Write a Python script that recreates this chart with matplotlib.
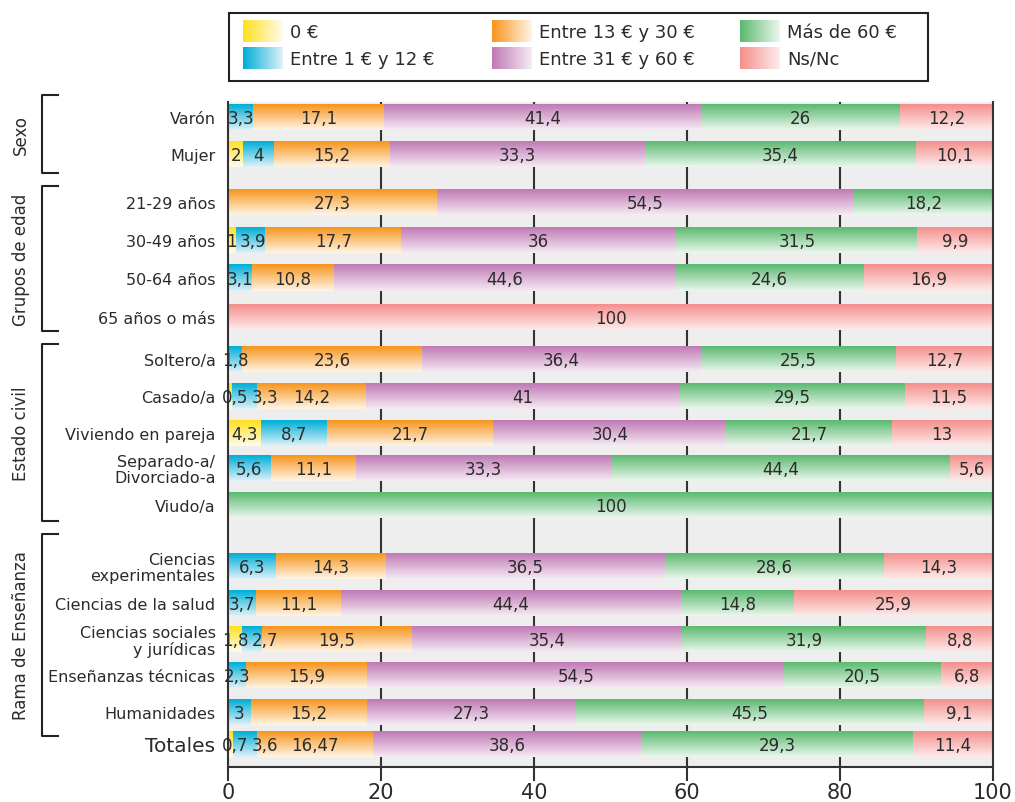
import numpy as np
import matplotlib
matplotlib.use("Agg")
import matplotlib.pyplot as plt
from matplotlib.colors import LinearSegmentedColormap

# datos (%), tal como se ven en el gráfico
categorias = ["Varón", "Mujer",
              "21-29 años", "30-49 años", "50-64 años", "65 años o más",
              "Soltero/a", "Casado/a", "Viviendo en pareja",
              "Separado-a/\nDivorciado-a", "Viudo/a",
              "Ciencias\nexperimentales", "Ciencias de la salud",
              "Ciencias sociales\ny jurídicas", "Enseñanzas técnicas",
              "Humanidades", "Totales"]

series = ["0 €", "Entre 1 € y 12 €", "Entre 13 € y 30 €",
          "Entre 31 € y 60 €", "Más de 60 €", "Ns/Nc"]

cero     = [0, 2, 0, 1, 0, 0, 0, 0.5, 4.3, 0, 0, 0, 0, 1.8, 0, 0, 0.7]
e1_12    = [3.3, 4, 0, 3.9, 3.1, 0, 1.8, 3.3, 8.7, 5.6, 0, 6.3, 3.7, 2.7, 2.3, 3, 3.1]
e13_30   = [17.1, 15.2, 27.3, 17.7, 10.8, 0, 23.6, 14.2, 21.7, 11.1, 0, 14.3, 11.1, 19.5, 15.9, 15.2, 15.2]
e31_60   = [41.4, 33.3, 54.5, 36, 44.6, 0, 36.4, 41, 30.4, 33.3, 0, 36.5, 44.4, 35.4, 54.5, 27.3, 35.0]
mas60    = [26, 35.4, 18.2, 31.5, 24.6, 0, 25.5, 29.5, 21.7, 44.4, 100, 28.6, 14.8, 31.9, 20.5, 45.5, 35.5]
nsnc     = [12.2, 10.1, 0, 9.9, 16.9, 100, 12.7, 11.5, 13, 5.6, 0, 14.3, 25.9, 8.8, 6.8, 9.1, 10.5]

# la fila de totales lleva rótulos distintos de lo dibujado
totales_rotulos = ["0,7", "3,6", "16,47", "38,6", "29,3", "11,4"]

grupos = ["Sexo", "Grupos de edad", "Estado civil", "Rama de Enseñanza"]

# colores: (saturado, claro)
colores = [("#FFE11F", "#FFFBEA"),
           ("#00AFD8", "#DDF1F8"),
           ("#F7961E", "#FFF4E4"),
           ("#C07AB5", "#F5EAF3"),
           ("#5CBA70", "#EAF6EC"),
           ("#F4908D", "#FDEBEA")]

# layout (coordenadas en píxeles de la imagen)
W, H = 1015, 803
centros = [118, 155, 203, 241, 279, 318, 360, 397, 434, 469, 506,
           567, 604, 640, 676, 713, 745]
alto = 26
corchetes = [(96, 174), (187, 332), (345, 522), (535, 737)]

plt.rcParams['font.family'] = ['DejaVu Sans']
texto = "#2b2b2b"

fig = plt.figure(figsize=(W / 100, H / 100), dpi=100)
ax = fig.add_axes([228 / W, (H - 768) / H, 765 / W, (768 - 103) / H])
ax.set_facecolor("#EEEEEE")

cmaps = [LinearSegmentedColormap.from_list("c%d" % i, [c0, c1]) for i, (c0, c1) in enumerate(colores)]
grad_v = np.linspace(0, 1, 40).reshape(-1, 1)

datos = [cero, e1_12, e13_30, e31_60, mas60, nsnc]


def fmt(v):
    if float(v).is_integer():
        return str(int(v))
    return str(v).replace(".", ",")


px_por_unidad = 765 / 100
for i, yc in enumerate(centros):
    izq = 0
    etiquetas = []
    for k, serie in enumerate(datos):
        v = serie[i]
        if v <= 0:
            continue
        ax.imshow(grad_v, cmap=cmaps[k], aspect="auto", interpolation="bilinear",
                  extent=(izq, izq + v, yc + alto / 2, yc - alto / 2), zorder=2)
        t = totales_rotulos[k] if i == len(centros) - 1 else fmt(v)
        etiquetas.append((izq + v / 2, t))
        izq += v
    # evitar solapes de etiquetas pequeñas
    prev_der = -1e9
    for cx, t in etiquetas:
        ancho = (sum(5.3 if ch == "," else 10.6 for ch in t)) / px_por_unidad
        x = max(cx, prev_der + ancho / 2 + 0.4, ancho / 2 - 0.8)
        prev_der = x + ancho / 2
        ax.text(x, yc + 1, t, ha="center", va="center", fontsize=12,
                color=texto, zorder=3)

ax.set_xlim(0, 100)
ax.set_ylim(768, 103)
ax.set_xticks([0, 20, 40, 60, 80, 100])
ax.tick_params(axis="x", direction="out", length=10, width=1.5, color="#333333",
               labelsize=15, labelcolor=texto, pad=1)
for x in [20, 40, 60, 80]:
    ax.axvline(x, color="#333333", lw=1.5, zorder=1)
ax.set_yticks(centros)
ax.set_yticklabels(categorias, fontsize=11.5, color=texto, linespacing=1.05)
ax.tick_params(axis="y", length=0, pad=9)
ax.get_yticklabels()[-1].set_fontsize(14.5)
ax.spines["top"].set_visible(False)
for s in ["left", "bottom", "right"]:
    ax.spines[s].set_color("#333333")
    ax.spines[s].set_linewidth(1.5)

# capa superior: leyenda, corchetes y nombres de grupo
ov = fig.add_axes([0, 0, 1, 1], zorder=5)
ov.set_xlim(0, W)
ov.set_ylim(H, 0)
ov.axis("off")

for (y0, y1), g in zip(corchetes, grupos):
    ov.plot([58, 42, 42, 58], [y0, y0, y1, y1], color="#222222", lw=1.5)
    ov.text(21, (y0 + y1) / 2, g, rotation=90, ha="center", va="center",
            fontsize=12, color=texto)

ov.add_patch(plt.Rectangle((229, 14), 699, 68, fill=False, ec="#222222", lw=1.5))
grad_h = np.linspace(0, 1, 40).reshape(1, -1)
col_x = [243, 492, 740]
fil_y = [32, 59]
for k, s in enumerate(series):
    cx = col_x[k // 2]
    cy = fil_y[k % 2]
    ov.imshow(grad_h, cmap=cmaps[k], aspect="auto", interpolation="bilinear",
              extent=(cx, cx + 40, cy + 11, cy - 11))
    ov.text(cx + 47, cy + 1, s, ha="left", va="center", fontsize=13, color=texto)
ov.set_xlim(0, W)
ov.set_ylim(H, 0)

fig.savefig("out.png", dpi=100)
